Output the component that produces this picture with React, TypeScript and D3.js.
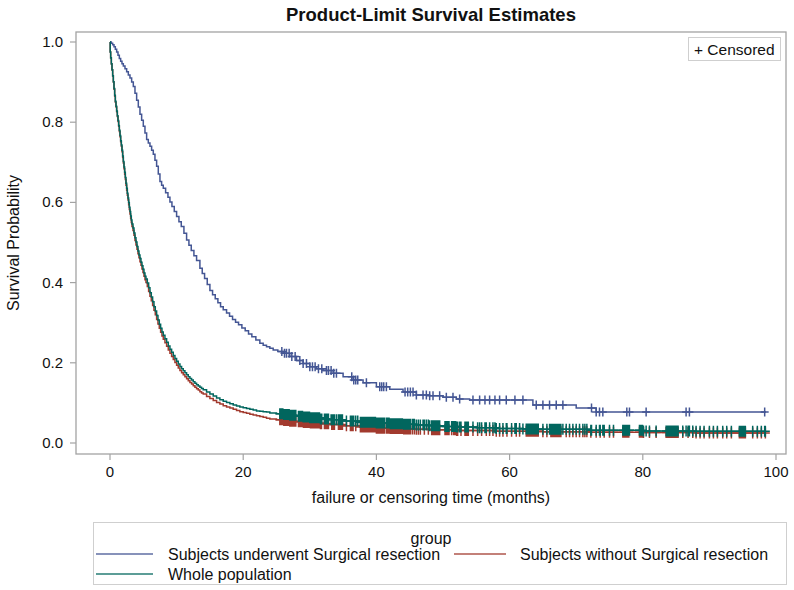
import React from 'react';
import * as d3 from 'd3';

const chartTitle = 'Product-Limit Survival Estimates';
const xLabel = 'failure or censoring time (months)';
const yLabel = 'Survival Probability';
const legendTitle = 'group';
const xTicks = [0, 20, 40, 60, 80, 100];
const yTicks = [0, 0.2, 0.4, 0.6, 0.8, 1.0];
const groupNames = [
  'Subjects underwent Surgical resection',
  'Subjects without Surgical resection',
  'Whole population',
];
const groupColors = ['#445694', '#A23A2E', '#01665E'];

// Kaplan-Meier step knots [time (months), survival]
const surgicalSteps: [number, number][] = [
  [0, 1.0], [0.2, 0.997], [0.4, 0.993], [0.6, 0.988], [0.8, 0.982], [1.0, 0.975], [1.2, 0.967],
  [1.4, 0.959], [1.6, 0.952], [1.8, 0.946], [2.0, 0.94], [2.25, 0.933], [2.5, 0.926], [2.75, 0.918],
  [3.0, 0.91], [3.25, 0.9], [3.5, 0.889], [3.75, 0.872], [4.0, 0.855], [4.25, 0.838], [4.5, 0.82],
  [4.75, 0.805], [5.0, 0.79], [5.25, 0.773], [5.5, 0.757], [5.75, 0.748], [6.0, 0.74], [6.25, 0.73],
  [6.5, 0.72], [6.75, 0.705], [7.0, 0.69], [7.25, 0.671], [7.5, 0.652], [7.75, 0.643], [8.0, 0.635],
  [8.35, 0.624], [8.7, 0.613], [9.0, 0.601], [9.3, 0.59], [9.65, 0.577], [10.0, 0.565], [10.35, 0.552],
  [10.7, 0.54], [11.1, 0.523], [11.5, 0.506], [11.85, 0.493], [12.2, 0.48], [12.6, 0.467], [13.0, 0.455],
  [13.5, 0.436], [13.85, 0.423], [14.2, 0.41], [14.6, 0.395], [15.0, 0.38], [15.4, 0.37], [15.8, 0.36],
  [16.2, 0.35], [16.6, 0.34], [17.0, 0.332], [17.5, 0.324], [17.95, 0.316], [18.4, 0.308], [18.85, 0.301],
  [19.3, 0.295], [19.8, 0.287], [20.3, 0.28], [20.8, 0.272], [21.3, 0.265], [21.9, 0.257], [22.5, 0.249],
  [23.0, 0.244], [23.5, 0.24], [24.0, 0.236], [24.5, 0.232], [25.2, 0.228], [26, 0.224], [27, 0.216],
  [28, 0.206], [29, 0.198], [30, 0.19], [31, 0.185], [32, 0.181], [33.5, 0.174], [35, 0.165],
  [36.5, 0.157], [38, 0.15], [40, 0.14], [42, 0.134], [44, 0.127], [46, 0.12], [48, 0.118], [50, 0.114],
  [52, 0.11], [54, 0.107], [63.5, 0.095], [70, 0.087], [73, 0.077], [98.5, 0.077],
];

const nonSurgicalSteps: [number, number][] = [
  [0, 1.0], [0.03, 0.975], [0.1, 0.96], [0.2, 0.945], [0.3, 0.93], [0.4, 0.915], [0.5, 0.9],
  [0.6, 0.882], [0.7, 0.865], [0.8, 0.85], [0.9, 0.838], [1.0, 0.826], [1.1, 0.814], [1.2, 0.802],
  [1.3, 0.79], [1.4, 0.777], [1.5, 0.764], [1.6, 0.751], [1.7, 0.74], [1.8, 0.726], [1.9, 0.712],
  [2.0, 0.698], [2.1, 0.684], [2.2, 0.67], [2.3, 0.657], [2.4, 0.643], [2.5, 0.63], [2.6, 0.618],
  [2.7, 0.606], [2.8, 0.594], [2.9, 0.582], [3.0, 0.571], [3.1, 0.56], [3.2, 0.55], [3.3, 0.54],
  [3.45, 0.53], [3.6, 0.518], [3.75, 0.505], [3.9, 0.494], [4.05, 0.483], [4.2, 0.472], [4.35, 0.462],
  [4.5, 0.452], [4.65, 0.443], [4.8, 0.434], [4.95, 0.425], [5.1, 0.416], [5.25, 0.407], [5.4, 0.4],
  [5.6, 0.39], [5.8, 0.378], [6.0, 0.366], [6.2, 0.355], [6.4, 0.343], [6.6, 0.331], [6.8, 0.32],
  [7.0, 0.308], [7.2, 0.297], [7.4, 0.286], [7.6, 0.276], [7.8, 0.267], [8.0, 0.259], [8.25, 0.25],
  [8.5, 0.241], [8.75, 0.232], [9.0, 0.224], [9.25, 0.216], [9.5, 0.208], [9.75, 0.201], [10.0, 0.194],
  [10.25, 0.187], [10.5, 0.181], [10.75, 0.175], [11.0, 0.17], [11.25, 0.165], [11.5, 0.16],
  [11.75, 0.155], [12.0, 0.151], [12.25, 0.147], [12.5, 0.143], [12.75, 0.139], [13, 0.135],
  [13.25, 0.132], [13.5, 0.128], [13.75, 0.125], [14, 0.122], [14.5, 0.116], [15, 0.111],
  [15.5, 0.106], [16, 0.101], [16.5, 0.097], [17, 0.093], [17.5, 0.09], [18, 0.087], [18.5, 0.084],
  [19, 0.081], [19.5, 0.078], [20, 0.076], [20.5, 0.074], [21, 0.072], [21.5, 0.07], [22, 0.068],
  [22.5, 0.066], [23, 0.064], [23.5, 0.062], [24, 0.06], [25, 0.058], [26, 0.056], [27, 0.054],
  [28, 0.053], [29, 0.051], [30, 0.05], [31.5, 0.048], [33, 0.046], [35, 0.043], [37.5, 0.04],
  [40, 0.037], [42, 0.036], [44, 0.035], [46, 0.034], [48, 0.033], [52, 0.031], [58, 0.029],
  [65, 0.028], [72, 0.027], [80, 0.026], [88, 0.025], [98.5, 0.025],
];

const wholeSteps: [number, number][] = [
  [0, 1.0], [0.03, 0.975], [0.1, 0.961], [0.2, 0.946], [0.3, 0.931], [0.4, 0.916], [0.5, 0.901],
  [0.6, 0.884], [0.7, 0.867], [0.8, 0.852], [0.9, 0.84], [1.0, 0.828], [1.1, 0.816], [1.2, 0.804],
  [1.3, 0.792], [1.4, 0.78], [1.5, 0.767], [1.6, 0.754], [1.7, 0.743], [1.8, 0.73], [1.9, 0.716],
  [2.0, 0.702], [2.1, 0.688], [2.2, 0.675], [2.3, 0.662], [2.4, 0.648], [2.5, 0.635], [2.6, 0.623],
  [2.7, 0.611], [2.8, 0.6], [2.9, 0.588], [3.0, 0.577], [3.1, 0.566], [3.2, 0.556], [3.3, 0.546],
  [3.45, 0.536], [3.6, 0.524], [3.75, 0.512], [3.9, 0.501], [4.05, 0.49], [4.2, 0.479], [4.35, 0.469],
  [4.5, 0.46], [4.65, 0.451], [4.8, 0.442], [4.95, 0.433], [5.1, 0.424], [5.25, 0.416], [5.4, 0.409],
  [5.6, 0.399], [5.8, 0.387], [6.0, 0.375], [6.2, 0.364], [6.4, 0.352], [6.6, 0.34], [6.8, 0.329],
  [7.0, 0.318], [7.2, 0.307], [7.4, 0.296], [7.6, 0.286], [7.8, 0.277], [8.0, 0.269], [8.25, 0.26],
  [8.5, 0.251], [8.75, 0.242], [9.0, 0.234], [9.25, 0.226], [9.5, 0.218], [9.75, 0.211], [10.0, 0.204],
  [10.25, 0.197], [10.5, 0.191], [10.75, 0.185], [11.0, 0.18], [11.25, 0.175], [11.5, 0.17],
  [11.75, 0.165], [12.0, 0.161], [12.25, 0.157], [12.5, 0.153], [12.75, 0.149], [13, 0.145],
  [13.25, 0.142], [13.5, 0.139], [13.75, 0.136], [14, 0.133], [14.5, 0.127], [15, 0.122],
  [15.5, 0.117], [16, 0.112], [16.5, 0.108], [17, 0.104], [17.5, 0.101], [18, 0.098], [18.5, 0.095],
  [19, 0.092], [19.5, 0.09], [20, 0.088], [20.5, 0.086], [21, 0.084], [21.5, 0.082], [22, 0.08],
  [22.5, 0.079], [23, 0.078], [23.5, 0.077], [24, 0.075], [25, 0.073], [26, 0.071], [27, 0.069],
  [28, 0.067], [29, 0.065], [30, 0.063], [31.5, 0.06], [33, 0.058], [35, 0.055], [37.5, 0.052],
  [40, 0.05], [42, 0.048], [44, 0.047], [46, 0.045], [48, 0.043], [50, 0.041], [52, 0.04],
  [55, 0.038], [58, 0.036], [62, 0.035], [65, 0.034], [72, 0.032], [80, 0.03], [88, 0.029],
  [98.5, 0.029],
];

// censoring times (months)
const surgicalCensor = [
  25.8, 26.2, 26.5, 26.9, 27.3, 27.8, 28.5, 29, 29.5, 30, 30.4, 30.8, 31.3, 31.8, 32.5, 32.8,
  33.2, 33.6, 34, 36.3, 36.6, 36.9, 37.2, 38.5, 40.5, 40.8, 41.1, 41.5, 44.3, 44.7, 45.1, 45.5,
  46, 47, 47.5, 48, 48.5, 49.5, 50.5, 51.5, 52.5, 54.5, 55.5, 56.3, 57, 57.8, 58.5, 59.5, 60.8,
  62, 64, 65, 66, 67, 68, 72.3, 73, 73.5, 74, 77.6, 78, 80.5, 86.5, 87, 98.3,
];

const nonSurgicalCensor = [
  25.5, 25.65, 25.8, 25.95, 26.1, 26.25, 26.4, 26.55, 26.7, 26.85, 27, 27.15, 27.3, 27.45, 27.6, 27.75, 27.9,
  28.3, 28.45, 28.6, 28.75, 28.9, 29.05, 29.2, 29.35, 29.5, 29.65, 29.8, 29.95, 30.1, 30.25, 30.4, 30.55,
  30.7, 30.85, 31, 31.15, 31.3, 31.45, 31.6, 31.75,
  32.2, 32.4, 32.6, 32.8, 33.3, 33.5, 33.7, 34.3, 34.5, 34.7, 34.9, 35.5, 36.1, 36.3, 36.5, 36.9,
  37.6, 37.75, 37.9, 38.05, 38.2, 38.35, 38.5, 38.65, 38.8, 38.95, 39.1, 39.25, 39.4, 39.55, 39.7, 39.85,
  40, 40.15, 40.3, 40.45, 40.6, 40.75, 40.9, 41.05, 41.2,
  41.5, 41.7, 41.9, 42.1, 42.3, 42.5, 42.7, 42.9, 43.1, 43.3, 43.5, 43.7, 43.9, 44.1, 44.3, 44.5, 44.7,
  44.9, 45.1, 45.4, 45.7, 46, 46.3, 46.6, 47.2, 47.8,
  48.3, 48.45, 48.6, 48.75, 48.9, 49.05, 49.2, 49.35, 49.5, 50.3, 50.45, 50.6, 50.75, 50.9, 51.3,
  51.6, 51.75, 51.9, 52.05, 52.2, 52.7, 53.3, 53.45, 53.6, 53.8,
  54.5, 55.2, 55.8, 56.5, 57, 57.5, 58, 58.5, 59, 59.6, 60.3, 61, 61.5,
  62.5, 62.65, 62.8, 62.95, 63.1, 63.25, 63.4, 63.55, 63.7, 63.85, 64, 64.15, 64.3, 65, 65.6,
  66.2, 66.35, 66.5, 66.65, 66.8, 66.95, 67.1, 67.25, 67.4, 67.55, 67.7, 68.5, 69, 69.5, 70, 70.5,
  71, 71.3, 71.6, 72.2, 73, 73.6, 74.2, 75, 75.6,
  77, 77.15, 77.3, 77.45, 77.6, 77.75, 77.9, 79.5, 79.65, 79.8, 79.95, 80.1, 81, 82,
  83.5, 83.65, 83.8, 83.95, 84.1, 84.25, 84.4, 84.55, 84.7, 84.85, 85, 85.15, 85.3, 86,
  86.8, 87.5, 88, 88.6, 89.2, 90, 90.6, 91.2, 92, 92.6, 93.3,
  94.5, 94.65, 94.8, 94.95, 95.1, 95.25, 95.4, 96.5, 97.2, 97.8, 98.4,
];

// whole population censoring = union of both groups
const wholeCensor = [...nonSurgicalCensor, ...surgicalCensor];

const W = 794;
const H = 590;
const frame = { left: 76, top: 32, right: 786, bottom: 454 };
const FONT = '"Liberation Sans", Arial, sans-serif';

export default function App() {
  const x = d3.scaleLinear().domain([0, 100]).range([110, 776]);
  const y = d3.scaleLinear().domain([0, 1]).range([443, 42]);

  const line = d3
    .line<[number, number]>()
    .x((d) => x(d[0]))
    .y((d) => y(d[1]))
    .curve(d3.curveStepAfter);

  const bis = d3.bisector((d: [number, number]) => d[0]).right;
  const survAt = (steps: [number, number][], t: number) => {
    const i = Math.max(0, bis(steps, t) - 1);
    return steps[i][1];
  };

  const series = [
    { steps: nonSurgicalSteps, censor: nonSurgicalCensor, color: groupColors[1], mw: 4.5, mh: 5.5 },
    { steps: surgicalSteps, censor: surgicalCensor, color: groupColors[0], mw: 4, mh: 4.5 },
    { steps: wholeSteps, censor: wholeCensor, color: groupColors[2], mw: 4.5, mh: 5.5 },
  ];

  const axisColor = '#a3a3a3';
  const textColor = '#111';

  return (
    <svg
      width={W}
      height={H}
      style={{ position: 'absolute', left: 0, top: 0, background: '#fff' }}
      fontFamily={FONT}
    >
      <rect x={0} y={0} width={W} height={H} fill="#fff" />
      <text x={431} y={21} textAnchor="middle" fontSize={18.5} fontWeight="bold" fill={textColor}>
        {chartTitle}
      </text>

      {/* frame */}
      <rect
        x={frame.left}
        y={frame.top}
        width={frame.right - frame.left}
        height={frame.bottom - frame.top}
        fill="none"
        stroke={axisColor}
        strokeWidth={1.3}
      />

      {/* y axis */}
      {yTicks.map((t) => (
        <g key={'y' + t}>
          <line x1={frame.left - 6} x2={frame.left} y1={y(t)} y2={y(t)} stroke={axisColor} strokeWidth={1.2} />
          <text x={frame.left - 13} y={y(t) + 5} textAnchor="end" fontSize={15} fill={textColor}>
            {t.toFixed(1)}
          </text>
        </g>
      ))}
      <text
        transform={`translate(19,${(frame.top + frame.bottom) / 2}) rotate(-90)`}
        textAnchor="middle"
        fontSize={16}
        fill={textColor}
      >
        {yLabel}
      </text>

      {/* x axis */}
      {xTicks.map((t) => (
        <g key={'x' + t}>
          <line x1={x(t)} x2={x(t)} y1={frame.bottom} y2={frame.bottom + 6} stroke={axisColor} strokeWidth={1.2} />
          <text x={x(t)} y={frame.bottom + 23} textAnchor="middle" fontSize={15} fill={textColor}>
            {t}
          </text>
        </g>
      ))}
      <text x={431} y={503} textAnchor="middle" fontSize={16} fill={textColor}>
        {xLabel}
      </text>

      {/* curves */}
      {series.map((s, si) => (
        <g key={'s' + si}>
          <path d={line(s.steps) || ''} fill="none" stroke={s.color} strokeWidth={1.5} />
          <path
            d={s.censor
              .map((t) => {
                const cx = x(t);
                const cy = y(survAt(s.steps, t));
                return `M${cx - s.mw},${cy}H${cx + s.mw}M${cx},${cy - s.mh}V${cy + s.mh}`;
              })
              .join('')}
            stroke={s.color}
            strokeWidth={1.5}
            fill="none"
          />
        </g>
      ))}

      {/* censored legend */}
      <rect x={688.5} y={37.5} width={92} height={23} fill="#fff" stroke="#cfcfcf" strokeWidth={1} />
      <text x={694} y={55} fontSize={15.5} fill={textColor}>
        + Censored
      </text>

      {/* group legend */}
      <rect x={93.5} y={522.5} width={693} height={62} fill="#fff" stroke="#cfcfcf" strokeWidth={1} />
      <text x={431} y={544} textAnchor="middle" fontSize={16} fill={textColor}>
        {legendTitle}
      </text>
      <line x1={96} x2={153} y1={554} y2={554} stroke={groupColors[0]} strokeWidth={1.5} opacity={0.85} />
      <text x={168} y={559.5} fontSize={16} fill={textColor}>
        {groupNames[0]}
      </text>
      <line x1={454} x2={506} y1={554} y2={554} stroke={groupColors[1]} strokeWidth={1.5} opacity={0.85} />
      <text x={520} y={559.5} fontSize={16} fill={textColor}>
        {groupNames[1]}
      </text>
      <line x1={96} x2={153} y1={574} y2={574} stroke={groupColors[2]} strokeWidth={1.5} opacity={0.85} />
      <text x={168} y={579.5} fontSize={16} fill={textColor}>
        {groupNames[2]}
      </text>
    </svg>
  );
}
